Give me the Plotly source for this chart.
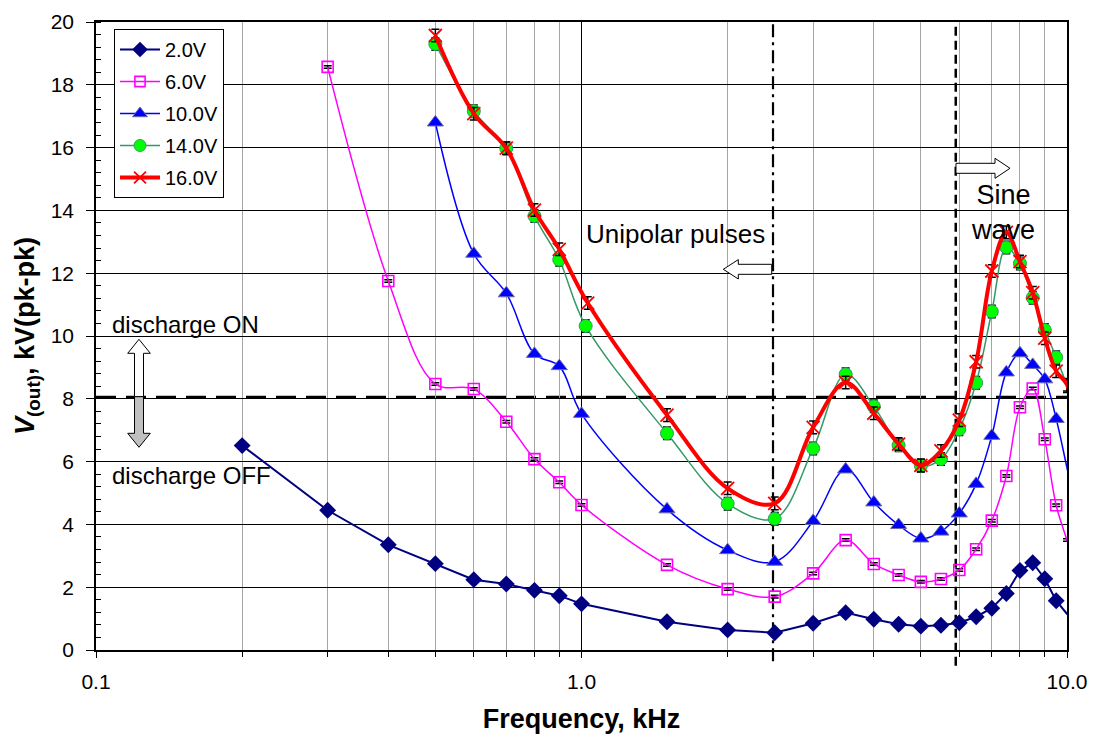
import numpy as np
import plotly.graph_objects as go

# ---------------- data ----------------
freq_2v = [0.2, 0.3, 0.4, 0.5, 0.6, 0.7, 0.8, 0.9, 1.0, 1.5, 2.0, 2.5, 3.0, 3.5, 4.0, 4.5,
           5.0, 5.5, 6.0, 6.5, 7.0, 7.5, 8.0, 8.5, 9.0, 9.5, 10.0, 10.5]
v_2v = [6.51, 4.45, 3.35, 2.75, 2.24, 2.10, 1.90, 1.73, 1.47, 0.90, 0.64, 0.55, 0.85, 1.19,
        0.98, 0.82, 0.76, 0.79, 0.87, 1.06, 1.33, 1.80, 2.53, 2.78, 2.27, 1.57, 1.15, 0.95]

freq_6v = [0.3, 0.4, 0.5, 0.6, 0.7, 0.8, 0.9, 1.0, 1.5, 2.0, 2.5, 3.0, 3.5, 4.0, 4.5, 5.0,
           5.5, 6.0, 6.5, 7.0, 7.5, 8.0, 8.5, 9.0, 9.5, 10.0, 10.5]
v_6v = [18.57, 11.75, 8.47, 8.31, 7.27, 6.08, 5.34, 4.62, 2.71, 1.94, 1.70, 2.44, 3.50, 2.74,
        2.39, 2.17, 2.26, 2.55, 3.21, 4.12, 5.54, 7.73, 8.33, 6.71, 4.61, 3.50, 2.50]

freq_10v = [0.5, 0.6, 0.7, 0.8, 0.9, 1.0, 1.5, 2.0, 2.5, 3.0, 3.5, 4.0, 4.5, 5.0, 5.5, 6.0,
            6.5, 7.0, 7.5, 8.0, 8.5, 9.0, 9.5, 10.0, 10.5]
v_10v = [16.80, 12.62, 11.36, 9.43, 9.04, 7.52, 4.48, 3.18, 2.81, 4.11, 5.75, 4.70, 3.98,
         3.55, 3.77, 4.35, 5.29, 6.82, 8.84, 9.45, 9.08, 8.62, 7.36, 5.80, 4.30]

freq_14v = [0.5, 0.6, 0.7, 0.8, 0.9, 1.02, 1.5, 2.0, 2.5, 3.0, 3.5, 4.0, 4.5, 5.0, 5.5, 6.0,
            6.5, 7.0, 7.5, 8.0, 8.5, 9.0, 9.5, 10.0, 10.5]
v_14v = [19.30, 17.16, 15.98, 13.82, 12.43, 10.32, 6.90, 4.66, 4.18, 6.42, 8.78, 7.76, 6.52,
         5.87, 6.08, 7.03, 8.51, 10.78, 12.82, 12.31, 11.22, 10.19, 9.32, 8.40, 7.20]

freq_16v = [0.5, 0.6, 0.7, 0.8, 0.9, 1.03, 1.5, 2.0, 2.5, 3.0, 3.5, 4.0, 4.5, 5.0, 5.5, 6.0,
            6.5, 7.0, 7.5, 8.0, 8.5, 9.0, 9.5, 10.0, 10.5]
v_16v = [19.57, 17.08, 15.98, 14.01, 12.76, 11.05, 7.48, 5.15, 4.67, 7.09, 8.52, 7.54, 6.56,
         5.88, 6.34, 7.32, 9.18, 12.07, 13.30, 12.37, 11.38, 9.93, 8.88, 8.45, 6.60]

series_names = ["2.0V", "6.0V", "10.0V", "14.0V", "16.0V"]
error_kv = [0.0, 0.04, 0.0, 0.2, 0.2]   # small measurement error bars

threshold_kv = 8.05          # discharge ON / OFF level
unipolar_limit_khz = 2.48    # dash-dot boundary
sine_limit_khz = 5.9         # dashed boundary

x_major_ticks = [0.1, 1.0, 10.0]
x_major_text = ["0.1", "1.0", "10.0"]
x_minor_ticks = [0.2, 0.3, 0.4, 0.5, 0.6, 0.7, 0.8, 0.9, 2, 3, 4, 5, 6, 7, 8, 9]

# ---------------- figure geometry ----------------
W, H = 1098, 735
ML, MR, MT, MB = 96, 31, 22, 85
PW, PH = W - ML - MR, H - MT - MB
FONT = "Liberation Sans, Arial, Helvetica, sans-serif"


def px(x):
    return (x - ML) / PW


def py(y):
    return (H - MB - y) / PH


def path(points):
    return "M " + " L ".join(f"{px(a):.5f},{py(b):.5f}" for a, b in points) + " Z"


def sizes(freqs, s):
    # markers sitting on / beyond the right axis are not drawn in the reference
    return [s if f < 9.99 else 0 for f in freqs]


styles = [
    dict(freq=freq_2v, v=v_2v, color="#000080", lw=2, shape="linear",
         marker=dict(symbol="diamond", size=sizes(freq_2v, 13), color="#000080",
                     opacity=1, line=dict(width=0))),
    dict(freq=freq_6v, v=v_6v, color="#ff00ff", lw=1.5, shape="spline",
         marker=dict(symbol="square-open", size=sizes(freq_6v, 11), color="#ff00ff",
                     opacity=1, line=dict(width=1.6, color="#ff00ff"))),
    dict(freq=freq_10v, v=v_10v, color="#0000ff", lw=1.5, shape="spline",
         marker=dict(symbol="triangle-up", size=sizes(freq_10v, 14), color="#0000ff",
                     opacity=1, line=dict(width=1, color="#6a6aa8"))),
    dict(freq=freq_14v, v=v_14v, color="#339966", lw=1.5, shape="spline",
         marker=dict(symbol="circle", size=sizes(freq_14v, 13), color="#00ff00",
                     opacity=1, line=dict(width=1, color="#339966"))),
    dict(freq=freq_16v, v=v_16v, color="#ff0000", lw=4, shape="spline",
         marker=dict(symbol="x-thin", size=sizes(freq_16v, 13), color="#ff0000",
                     opacity=1, line=dict(width=1.8, color="#ff0000"))),
]

fig = go.Figure()
for name, st, ek in zip(series_names, styles, error_kv):
    fig.add_trace(go.Scatter(
        x=st["freq"], y=st["v"], name=name, mode="lines+markers",
        line=dict(color=st["color"], width=st["lw"], shape=st["shape"]),
        marker=st["marker"], legendgroup=name, opacity=1,
        error_y=dict(type="constant", value=ek, color="black", thickness=1.5, width=4,
                     visible=ek > 0),
    ))

# ---------------- reference lines ----------------
shapes = [
    dict(type="line", xref="paper", yref="y", x0=0, x1=1, y0=threshold_kv, y1=threshold_kv,
         line=dict(color="black", width=3, dash="20px,10px"), layer="between"),
    dict(type="line", xref="paper", yref="paper",
         x0=(np.log10(unipolar_limit_khz) + 1) / 2, x1=(np.log10(unipolar_limit_khz) + 1) / 2,
         y0=-0.018, y1=1, line=dict(color="black", width=2.2, dash="13px,5px,3px,5px"),
         layer="between"),
    dict(type="line", xref="paper", yref="paper",
         x0=(np.log10(sine_limit_khz) + 1) / 2, x1=(np.log10(sine_limit_khz) + 1) / 2,
         y0=-0.025, y1=1, line=dict(color="black", width=2.5, dash="9px,5px"),
         layer="between"),
]

# block arrows (pixel outline -> paper)
arrow_line = dict(color="black", width=1)
shapes += [
    dict(type="path", xref="paper", yref="paper", layer="above", line=arrow_line,
         fillcolor="white",
         path=path([(134.5, 396.7), (134.5, 353.3), (127.7, 353.3), (139, 339.3),
                    (150.3, 353.3), (143.5, 353.3), (143.5, 396.7)])),
    dict(type="path", xref="paper", yref="paper", layer="above", line=arrow_line,
         fillcolor="#c0c0c0",
         path=path([(134.5, 396.7), (134.5, 433.3), (127.7, 433.3), (139, 447.3),
                    (150.3, 433.3), (143.5, 433.3), (143.5, 396.7)])),
    dict(type="path", xref="paper", yref="paper", layer="above", line=arrow_line,
         fillcolor="white",
         path=path([(771.7, 264.3), (738.3, 264.3), (738.3, 259.6), (723.3, 269.3),
                    (738.3, 279.0), (738.3, 274.3), (771.7, 274.3)])),
    dict(type="path", xref="paper", yref="paper", layer="above", line=arrow_line,
         fillcolor="white",
         path=path([(956, 163.3), (995, 163.3), (995, 158.3), (1010, 168.3),
                    (995, 178.3), (995, 173.3), (956, 173.3)])),
]

annotations = [
    dict(text="Unipolar pulses", x=px(675), y=py(234), xref="paper", yref="paper",
         xanchor="center", yanchor="middle", showarrow=False,
         font=dict(size=26, color="black", family=FONT)),
    dict(text="Sine<br>wave", x=px(1003), y=py(212), xref="paper", yref="paper",
         xanchor="center", yanchor="middle", showarrow=False,
         font=dict(size=27, color="black", family=FONT)),
    dict(text="discharge ON", x=px(110), y=py(325), xref="paper", yref="paper",
         xanchor="left", yanchor="middle", showarrow=False,
         font=dict(size=24, color="black", family=FONT)),
    dict(text="discharge OFF", x=px(110), y=py(475), xref="paper", yref="paper",
         xanchor="left", yanchor="middle", showarrow=False,
         font=dict(size=24, color="black", family=FONT)),
]

fig.update_layout(
    width=W, height=H, margin=dict(l=ML, r=MR, t=MT, b=MB, autoexpand=False),
    paper_bgcolor="white", plot_bgcolor="white",
    font=dict(family=FONT, size=20, color="black"),
    shapes=shapes, annotations=annotations,
    legend=dict(x=px(114), y=py(29), xanchor="left", yanchor="top",
                bgcolor="white", bordercolor="black", borderwidth=1,
                font=dict(size=20, family=FONT), tracegroupgap=3,
                itemwidth=40),
    showlegend=True,
)

fig.update_xaxes(
    type="log", range=[-1, 1], tickvals=x_major_ticks, ticktext=x_major_text,
    showgrid=True, gridcolor="black", gridwidth=1,
    ticks="outside", ticklen=6, tickcolor="black", tickwidth=1,
    ticklabelstandoff=6,
    showline=True, linecolor="black", linewidth=1.5, mirror=True,
    tickfont=dict(size=21),
    minor=dict(tickvals=x_minor_ticks, showgrid=True, gridcolor="#a6a6a6", gridwidth=1,
               ticks="outside", ticklen=5, tickcolor="black"),
    title=dict(text="<b>Frequency, kHz</b>", font=dict(size=27), standoff=17),
)

fig.update_yaxes(
    range=[0, 20], tick0=0, dtick=2,
    showgrid=True, gridcolor="black", gridwidth=1,
    ticks="outside", ticklen=8, tickcolor="black", tickwidth=1,
    ticklabelstandoff=8,
    showline=True, linecolor="black", linewidth=1.5, mirror=True,
    zeroline=False, tickfont=dict(size=21),
    minor=dict(dtick=0.4, ticks="inside", ticklen=5, tickcolor="black", showgrid=False),
    title=dict(text="<b><i>V</i><sub>(out)</sub>, kV(pk-pk)</b>", font=dict(size=27),
               standoff=8),
)

fig.write_html("out.html")
